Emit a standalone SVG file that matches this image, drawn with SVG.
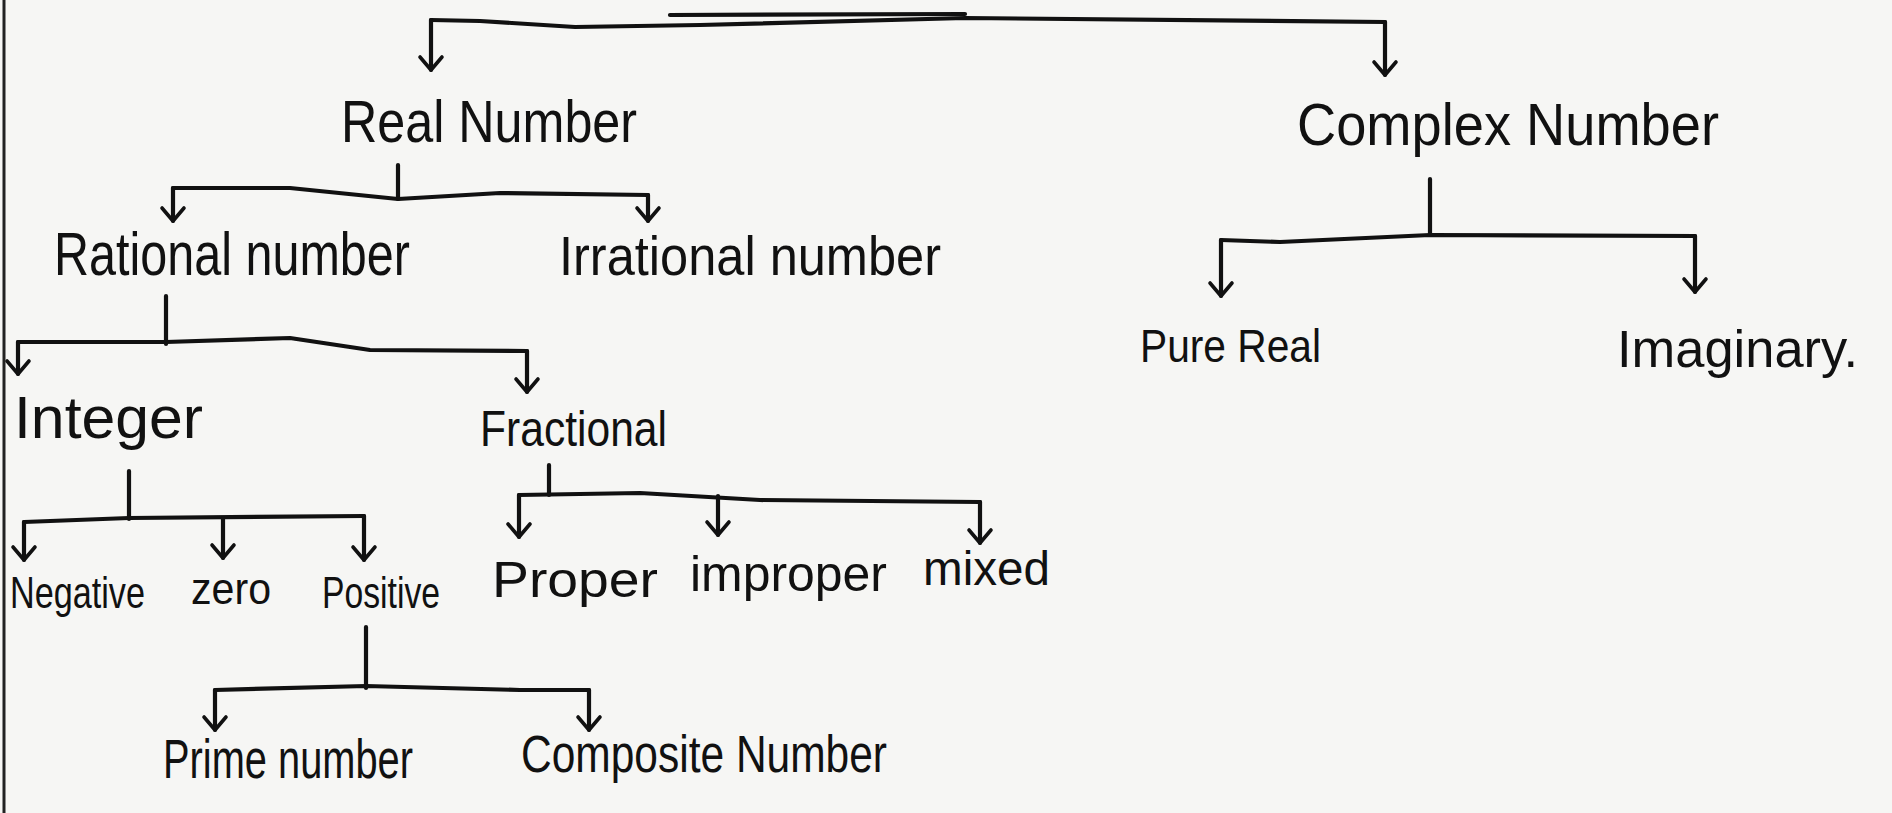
<svg xmlns="http://www.w3.org/2000/svg" width="1892" height="813" viewBox="0 0 1892 813">
<defs>
<style>
.ink{fill:none;stroke:#111;stroke-width:4.2;stroke-linecap:round;stroke-linejoin:round}
.lbl{font-family:"Liberation Sans",Arial,sans-serif;fill:#111}
</style>
<marker id="ah" markerUnits="userSpaceOnUse" markerWidth="32" markerHeight="32" refX="16" refY="16" orient="auto" viewBox="0 0 32 32">
<path d="M3,5 L16,16 L3,27" fill="none" stroke="#111" stroke-width="3.6" stroke-linecap="round" stroke-linejoin="round"/>
</marker>
</defs>
<rect width="1892" height="813" fill="#f6f6f4"/>
<line x1="4" y1="0" x2="4" y2="813" stroke="#222" stroke-width="3"/>
<g id="connectors">
<!-- top -->
<path class="ink" d="M431,20 L480,21 L575,27 L700,25 L965,18 L1385,22"/>
<path class="ink" d="M670,15 L965,14"/>
<path class="ink" d="M431,20 L431,70" marker-end="url(#ah)"/>
<path class="ink" d="M1385,22 L1385,75" marker-end="url(#ah)"/>
<!-- real -->
<path class="ink" d="M398,165 L398,199"/>
<path class="ink" d="M173,188 L290,188 L398,199 L500,193 L648,195"/>
<path class="ink" d="M173,188 L173,221" marker-end="url(#ah)"/>
<path class="ink" d="M648,195 L648,221" marker-end="url(#ah)"/>
<!-- rational -->
<path class="ink" d="M166,296 L166,344"/>
<path class="ink" d="M18,342 L166,342 L290,338 L370,350 L527,351"/>
<path class="ink" d="M18,342 L18,374" marker-end="url(#ah)"/>
<path class="ink" d="M527,351 L527,392" marker-end="url(#ah)"/>
<!-- complex -->
<path class="ink" d="M1430,179 L1430,235"/>
<path class="ink" d="M1221,240 L1280,242 L1430,235 L1695,236"/>
<path class="ink" d="M1221,240 L1221,296" marker-end="url(#ah)"/>
<path class="ink" d="M1695,236 L1695,292" marker-end="url(#ah)"/>
<!-- integer -->
<path class="ink" d="M129,471 L129,519"/>
<path class="ink" d="M24,522 L129,518 L364,516"/>
<path class="ink" d="M24,522 L24,560" marker-end="url(#ah)"/>
<path class="ink" d="M223,518 L223,558" marker-end="url(#ah)"/>
<path class="ink" d="M364,516 L364,560" marker-end="url(#ah)"/>
<!-- fractional -->
<path class="ink" d="M549,465 L549,495"/>
<path class="ink" d="M519,495 L640,493 L760,500 L980,502"/>
<path class="ink" d="M519,495 L519,537" marker-end="url(#ah)"/>
<path class="ink" d="M718,496 L718,535" marker-end="url(#ah)"/>
<path class="ink" d="M980,502 L980,543" marker-end="url(#ah)"/>
<!-- positive -->
<path class="ink" d="M366,627 L366,688"/>
<path class="ink" d="M215,690 L366,686 L520,690 L589,690"/>
<path class="ink" d="M215,690 L215,730" marker-end="url(#ah)"/>
<path class="ink" d="M589,690 L589,730" marker-end="url(#ah)"/>
</g>
<g id="real-number"><text class="lbl" x="341" y="142" font-size="60" textLength="296" lengthAdjust="spacingAndGlyphs">Real Number</text></g>
<g id="complex-number"><text class="lbl" x="1297" y="145" font-size="59" textLength="422" lengthAdjust="spacingAndGlyphs">Complex Number</text></g>
<g id="rational-number"><text class="lbl" x="54" y="275" font-size="62" textLength="356" lengthAdjust="spacingAndGlyphs">Rational number</text></g>
<g id="irrational-number"><text class="lbl" x="559" y="275" font-size="56" textLength="382" lengthAdjust="spacingAndGlyphs">Irrational number</text></g>
<g id="pure-real"><text class="lbl" x="1140" y="362" font-size="47" textLength="181" lengthAdjust="spacingAndGlyphs">Pure Real</text></g>
<g id="imaginary"><text class="lbl" x="1617" y="367" font-size="51" textLength="241" lengthAdjust="spacingAndGlyphs">Imaginary.</text></g>
<g id="integer"><text class="lbl" x="14" y="438" font-size="59" textLength="189" lengthAdjust="spacingAndGlyphs">Integer</text></g>
<g id="fractional"><text class="lbl" x="480" y="446" font-size="50" textLength="187" lengthAdjust="spacingAndGlyphs">Fractional</text></g>
<g id="negative"><text class="lbl" x="10" y="608" font-size="44" textLength="135" lengthAdjust="spacingAndGlyphs">Negative</text></g>
<g id="zero"><text class="lbl" x="191" y="604" font-size="44" textLength="80" lengthAdjust="spacingAndGlyphs">zero</text></g>
<g id="positive"><text class="lbl" x="322" y="608" font-size="45" textLength="118" lengthAdjust="spacingAndGlyphs">Positive</text></g>
<g id="proper"><text class="lbl" x="492" y="597" font-size="50" textLength="166" lengthAdjust="spacingAndGlyphs">Proper</text></g>
<g id="improper"><text class="lbl" x="690" y="591" font-size="50" textLength="197" lengthAdjust="spacingAndGlyphs">improper</text></g>
<g id="mixed"><text class="lbl" x="923" y="585" font-size="48" textLength="127" lengthAdjust="spacingAndGlyphs">mixed</text></g>
<g id="prime-number"><text class="lbl" x="163" y="778" font-size="55" textLength="250" lengthAdjust="spacingAndGlyphs">Prime number</text></g>
<g id="composite-number"><text class="lbl" x="521" y="772" font-size="51" textLength="366" lengthAdjust="spacingAndGlyphs">Composite Number</text></g>
</svg>
